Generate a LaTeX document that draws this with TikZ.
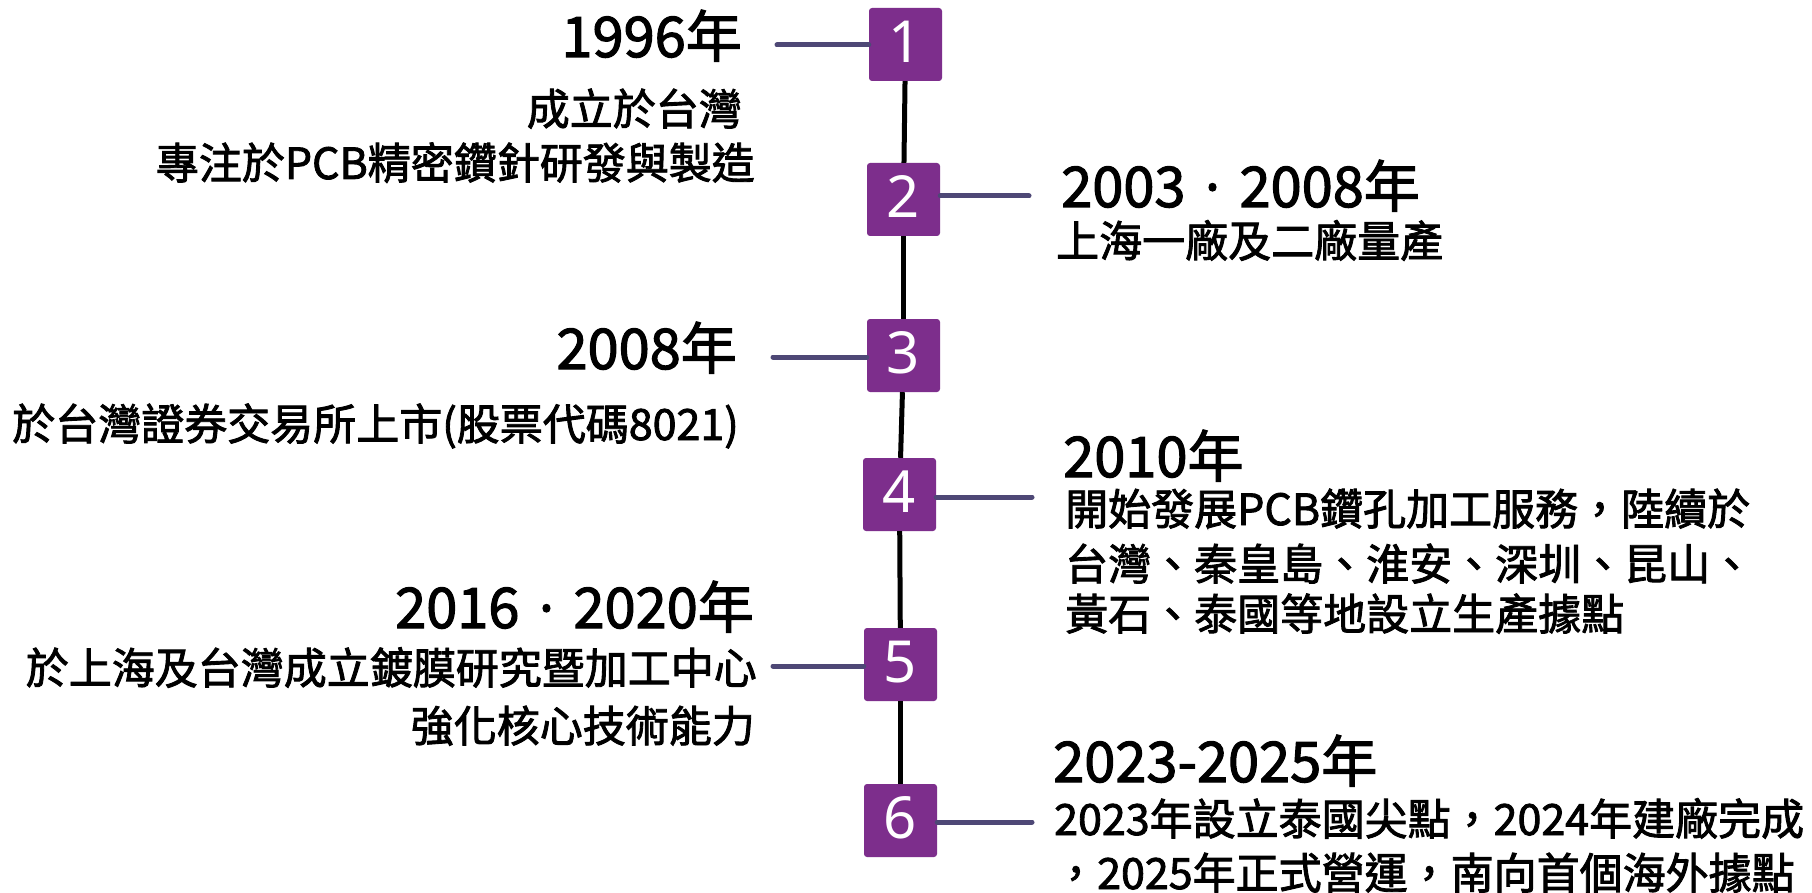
\documentclass[tikz,border=0pt]{standalone}
\usepackage{fontspec}
\setmainfont{Noto Sans CJK TC}[FakeBold=2]
\newfontfamily\numfont{Noto Sans}
\newfontfamily\dotfont{Noto Sans}[FakeBold=2]
\definecolor{boxpurple}{RGB}{125,46,140}
\definecolor{linkcol}{RGB}{78,72,118}
\begin{document}
\begin{tikzpicture}[x=1pt,y=-1pt,
  stepbox/.style={fill=boxpurple, rounded corners=3pt, minimum width=73pt, minimum height=73pt, inner sep=0pt, text=white, text depth=6pt, font=\numfont\fontsize{58}{58}\selectfont},
  yeartxt/.style={inner sep=0pt, font=\fontsize{56}{60}\selectfont},
  bodytxt/.style={inner sep=0pt, font=\fontsize{43}{50}\selectfont},
  spine/.style={line width=5pt, black},
  link/.style={line width=5pt, linkcol, line cap=round}]
\useasboundingbox[fill=white] (0,0) rectangle (1812,893);

% boxes
\node[stepbox] (b1) at (905.5,44.5) {1};
\node[stepbox] (b2) at (903.5,199.5) {2};
\node[stepbox] (b3) at (903.5,355.5) {3};
\node[stepbox] (b4) at (899.5,494.5) {4};
\node[stepbox] (b5) at (900.5,664.5) {5};
\node[stepbox] (b6) at (900.5,820.5) {6};

% spine
\draw[spine] (b1) -- (b2);
\draw[spine] (b2) -- (b3);
\draw[spine] (b3) -- (b4);
\draw[spine] (b4) -- (b5);
\draw[spine] (b5) -- (b6);

% side connectors
\coordinate (c1) at (777,45);
\coordinate (c2) at (1029,196);
\coordinate (c3) at (773,357);
\coordinate (c4) at (1032,497);
\coordinate (c5) at (773,666);
\coordinate (c6) at (1032,822);
\draw[link] (c1) -- (c1 -| b1.west);
\draw[link] (b2.east |- c2) -- (c2);
\draw[link] (c3) -- (c3 -| b3.west);
\draw[link] (b4.east |- c4) -- (c4);
\draw[link] (c5) -- (c5 -| b5.west);
\draw[link] (b6.east |- c6) -- (c6);

% left texts
\node[yeartxt, anchor=base east] (t1) at (742,57) {1996年};
\node[bodytxt, anchor=base east] (d1a) at (742,125) {成立於台灣};
\node[bodytxt, anchor=base east] (d1b) at (755,179) {專注於PCB精密鑽針研發與製造};

\node[yeartxt, anchor=base east] (t3) at (737,369) {2008年};
\node[bodytxt, anchor=base east] (d3a) at (739,440) {於台灣證券交易所上市(股票代碼8021)};

\node[yeartxt, anchor=base east] (t5) at (754,628) {2016\makebox[54pt]{\dotfont ·}2020年};
\node[bodytxt, anchor=base east] (d5a) at (757,684) {於上海及台灣成立鍍膜研究暨加工中心};
\node[bodytxt, anchor=base east] (d5b) at (755,742) {強化核心技術能力};

% right texts
\node[yeartxt, anchor=base west] (t2) at (1061,207) {2003\makebox[54pt]{\dotfont ·}2008年};
\node[bodytxt, anchor=base west] (d2a) at (1056,257) {上海一廠及二廠量產};

\node[yeartxt, anchor=base west] (t4) at (1063,477) {2010年};
\node[bodytxt, anchor=base west] (d4a) at (1065,525) {開始發展PCB鑽孔加工服務，陸續於};
\node[bodytxt, anchor=base west] (d4b) at (1065,580) {台灣、秦皇島、淮安、深圳、昆山、};
\node[bodytxt, anchor=base west] (d4c) at (1065,630) {黃石、泰國等地設立生產據點};

\node[yeartxt, anchor=base west] (t6) at (1053,782) {2023-2025年};
\node[bodytxt, anchor=base west] (d6a) at (1054,835) {2023年設立泰國尖點，2024年建廠完成};
\node[bodytxt, anchor=base west] (d6b) at (1054,889) {，2025年正式營運，南向首個海外據點};
\end{tikzpicture}
\end{document}
